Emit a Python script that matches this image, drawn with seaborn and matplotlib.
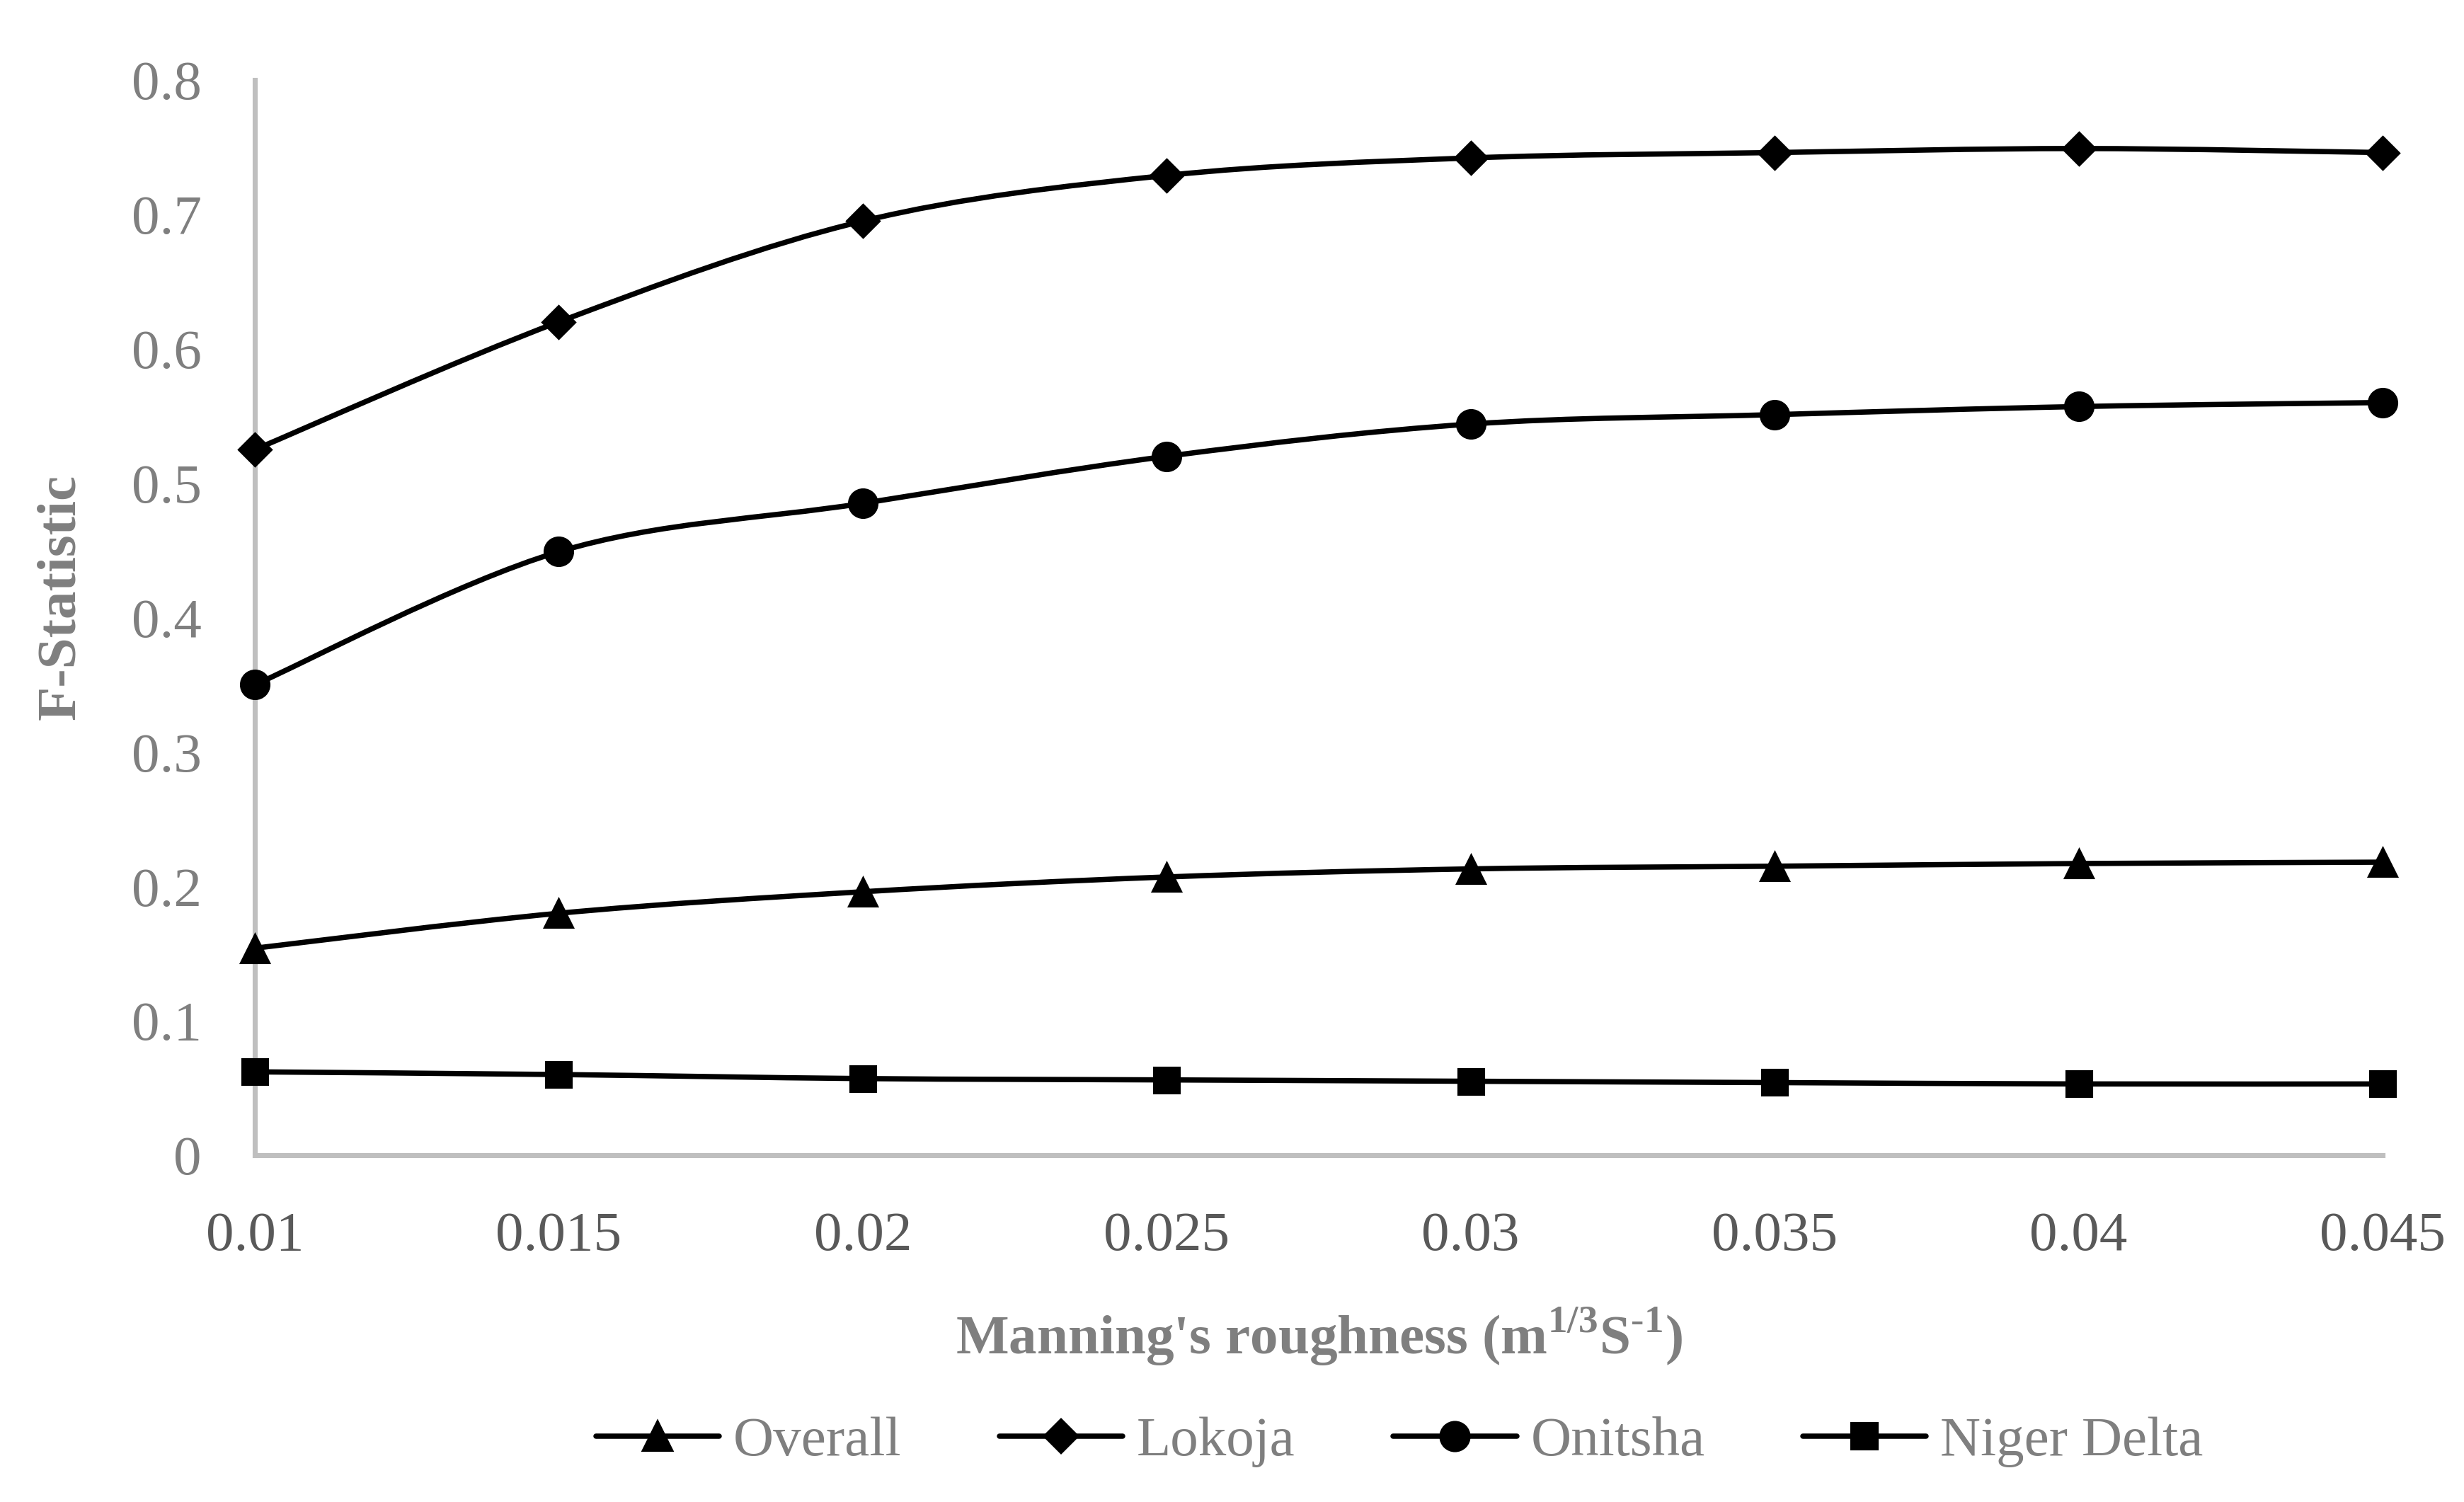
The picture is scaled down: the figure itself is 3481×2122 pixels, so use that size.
import numpy as np
import pandas as pd
import matplotlib.pyplot as plt
import seaborn as sns
from matplotlib.path import Path
from matplotlib.patches import PathPatch
from matplotlib.lines import Line2D

sns.set_style("white")
plt.rcParams['font.family'] = ['Liberation Serif', 'DejaVu Serif']
plt.rcParams['mathtext.fontset'] = 'custom'
plt.rcParams['mathtext.rm'] = 'Liberation Serif'
plt.rcParams['mathtext.bf'] = 'Liberation Serif:bold'

# manning's roughness values on the x axis
roughness = [0.01, 0.015, 0.02, 0.025, 0.03, 0.035, 0.04, 0.045]

# F-statistic per station
overall = [0.154, 0.180, 0.196, 0.207, 0.213, 0.215, 0.217, 0.218]
lokoja = [0.525, 0.620, 0.695, 0.729, 0.742, 0.746, 0.749, 0.746]
onitsha = [0.350, 0.449, 0.485, 0.520, 0.544, 0.551, 0.557, 0.560]
niger_delta = [0.062, 0.060, 0.057, 0.056, 0.055, 0.054, 0.053, 0.053]

series_names = ['Overall', 'Lokoja', 'Onitsha', 'Niger Delta']
series_values = [overall, lokoja, onitsha, niger_delta]
series_markers = {'Overall': '^', 'Lokoja': 'D', 'Onitsha': 'o', 'Niger Delta': 's'}
marker_sizes = {'Overall': 9.8, 'Lokoja': 7.8, 'Onitsha': 9.6, 'Niger Delta': 8.5}

y_ticks = [0, 0.1, 0.2, 0.3, 0.4, 0.5, 0.6, 0.7, 0.8]

df = pd.DataFrame({
    'Roughness': roughness * len(series_names),
    'F': sum(series_values, []),
    'Series': [name for name in series_names for _ in roughness],
})

GRAY_AXIS = '#bfbfbf'
GRAY_TEXT = '#7f7f7f'
GRAY_XTICK = '#595959'
LW = 1.8


# excel-like smoothed line: bezier segments through the data points
def smooth_path(xs, ys):
    pts = np.column_stack([xs, ys])
    n = len(pts)
    verts = [pts[0]]
    codes = [Path.MOVETO]
    for i in range(n - 1):
        p0 = pts[max(i - 1, 0)]
        p1 = pts[i]
        p2 = pts[i + 1]
        p3 = pts[min(i + 2, n - 1)]
        c1 = p1 + (p2 - p0) / 6
        c2 = p2 - (p3 - p1) / 6
        verts += [c1, c2, p2]
        codes += [Path.CURVE4] * 3
    return Path(verts, codes)


fig, ax = plt.subplots(figsize=(3481 / 300, 2122 / 300), dpi=300)
fig.subplots_adjust(left=360 / 3481, right=3366 / 3481, bottom=1 - 1632 / 2122, top=1 - 113 / 2122)

for name in series_names:
    data = df[df['Series'] == name]
    ax.add_patch(PathPatch(smooth_path(data['Roughness'].values, data['F'].values),
                           fill=False, edgecolor='black', linewidth=LW, zorder=2, clip_on=False))
    sns.lineplot(data=data, x='Roughness', y='F', ax=ax, estimator=None, linestyle='none',
                 marker=series_markers[name], markersize=marker_sizes[name], color='black',
                 markeredgecolor='black', clip_on=False, zorder=3, legend=False)

ax.set_xlim(roughness[0], roughness[-1])
ax.set_ylim(0, 0.8)
ax.set_xticks(roughness)
ax.set_xticklabels([f'{v:g}' for v in roughness])
ax.set_yticks(y_ticks)
ax.set_yticklabels([f'{v:g}' for v in y_ticks])

for side in ['top', 'right']:
    ax.spines[side].set_visible(False)
for side in ['left', 'bottom']:
    ax.spines[side].set_color(GRAY_AXIS)
    ax.spines[side].set_linewidth(1.7)

ax.tick_params(axis='both', direction='out', length=6, width=1.7, color=GRAY_AXIS)
ax.tick_params(axis='x', labelsize=19, labelcolor=GRAY_XTICK, pad=13)
ax.tick_params(axis='y', labelsize=19, labelcolor=GRAY_TEXT, pad=12)

ax.set_xlabel(r"Manning's roughness (m$^{\mathbf{1/3}}$S$^{\mathbf{\text{-}1}}$)",
              fontsize=19, fontweight='bold', color=GRAY_TEXT)
ax.xaxis.set_label_coords(0.5, -0.185)
ax.xaxis.label.set_verticalalignment('baseline')

ax.set_ylabel('F-Statistic', fontsize=19, fontweight='bold', color=GRAY_TEXT)
ax.yaxis.set_label_coords(-0.0911, 0.519)
ax.yaxis.label.set_verticalalignment('center')

handles = [Line2D([], [], color='black', linewidth=LW, marker=series_markers[name],
                  markersize=marker_sizes[name], markeredgecolor='black') for name in series_names]
legend = fig.legend(handles, series_names, loc='center', bbox_to_anchor=(0.568, 0.04), ncol=4,
                    frameon=False, fontsize=19, handlelength=2.2, handletextpad=0.25, columnspacing=1.75)
for text in legend.get_texts():
    text.set_color(GRAY_TEXT)

fig.savefig('out.png', dpi=300)
